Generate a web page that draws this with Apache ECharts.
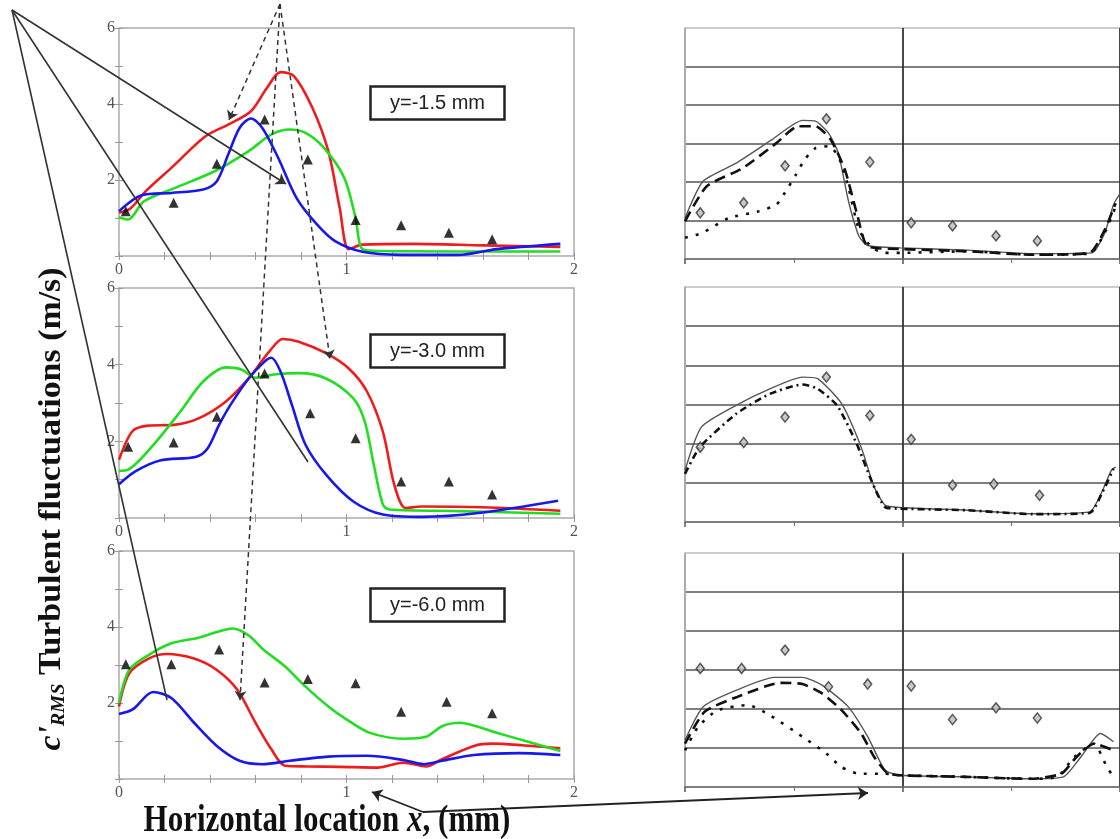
<!DOCTYPE html>
<html>
<head>
<meta charset="utf-8">
<script src="https://cdn.jsdelivr.net/npm/echarts@6/dist/echarts.min.js"></script>
<style>html,body{margin:0;padding:0;background:#fff;}#main{width:1120px;height:839px;}</style>
</head>
<body>
<div id="main"></div>
<script>
// ---------- Left column (CFD models vs experiment), x in mm, c'RMS in m/s ----------
const xTickLabels = ['0', '1', '2'];
const yTickLabels = ['2', '4', '6'];
const panelLabels = ['y=-1.5 mm', 'y=-3.0 mm', 'y=-6.0 mm'];

const p1Red = [[0,1.14],[0.05,1.25],[0.12,1.72],[0.23,2.32],[0.38,3.15],[0.48,3.46],[0.58,3.81],[0.65,4.42],[0.71,4.84],[0.77,4.73],[0.85,3.9],[0.92,2.76],[0.97,1.27],[1.01,0.18],[1.07,0.3],[1.3,0.32],[1.6,0.28],[1.94,0.24]];
const p1Green = [[0,1.02],[0.04,0.96],[0.11,1.44],[0.25,1.8],[0.42,2.23],[0.57,2.76],[0.67,3.2],[0.75,3.33],[0.82,3.24],[0.9,2.85],[0.99,2.06],[1.04,1.0],[1.07,0.18],[1.15,0.13],[1.5,0.12],[1.94,0.12]];
const p1Blue = [[0,1.18],[0.1,1.6],[0.23,1.66],[0.37,1.75],[0.43,1.97],[0.48,2.67],[0.53,3.37],[0.58,3.62],[0.63,3.37],[0.7,2.58],[0.78,1.53],[0.87,0.83],[0.95,0.39],[1.07,0.11],[1.24,0.03],[1.49,0.03],[1.66,0.18],[1.94,0.32]];
const p1Exp = [[0.03,1.18],[0.24,1.4],[0.43,2.43],[0.64,3.59],[0.83,2.54],[1.04,0.95],[1.24,0.81],[1.45,0.61],[1.64,0.44]];

const p2Red = [[0,1.52],[0.06,2.27],[0.13,2.41],[0.24,2.43],[0.35,2.6],[0.47,3.04],[0.57,3.64],[0.66,4.34],[0.72,4.67],[0.79,4.6],[0.91,4.3],[1.01,3.9],[1.09,3.3],[1.16,2.25],[1.21,0.87],[1.26,0.26],[1.33,0.3],[1.6,0.28],[1.94,0.19]];
const p2Green = [[0,1.23],[0.04,1.26],[0.15,1.9],[0.27,2.78],[0.37,3.56],[0.47,3.93],[0.54,3.87],[0.6,3.66],[0.69,3.75],[0.79,3.78],[0.91,3.64],[1.03,3.12],[1.08,2.52],[1.12,1.39],[1.16,0.35],[1.19,0.22],[1.5,0.18],[1.94,0.11]];
const p2Blue = [[0,0.88],[0.07,1.21],[0.18,1.5],[0.34,1.6],[0.39,1.82],[0.44,2.43],[0.49,2.95],[0.57,3.64],[0.64,4.08],[0.67,4.18],[0.71,3.82],[0.76,2.95],[0.82,1.91],[0.91,1.13],[1.03,0.43],[1.16,0.09],[1.33,0.03],[1.58,0.13],[1.93,0.45]];
const p2Exp = [[0.04,1.86],[0.24,1.97],[0.43,2.64],[0.64,3.77],[0.84,2.73],[1.04,2.08],[1.24,0.95],[1.45,0.95],[1.64,0.61]];

const p3Red = [[0,1.91],[0.045,2.78],[0.13,3.17],[0.21,3.29],[0.33,3.17],[0.43,2.87],[0.52,2.35],[0.6,1.48],[0.67,0.78],[0.73,0.35],[0.83,0.33],[0.97,0.32],[1.14,0.3],[1.25,0.43],[1.35,0.33],[1.42,0.52],[1.56,0.87],[1.64,0.93],[1.77,0.89],[1.94,0.81]];
const p3Green = [[0,2.0],[0.045,2.87],[0.13,3.26],[0.23,3.57],[0.35,3.72],[0.43,3.87],[0.5,3.96],[0.57,3.78],[0.63,3.43],[0.73,2.96],[0.82,2.43],[0.92,1.91],[1.0,1.57],[1.1,1.22],[1.25,1.06],[1.35,1.11],[1.42,1.39],[1.5,1.48],[1.57,1.39],[1.66,1.22],[1.81,0.96],[1.94,0.74]];
const p3Blue = [[0,1.71],[0.06,1.83],[0.15,2.29],[0.23,2.13],[0.33,1.48],[0.43,0.87],[0.53,0.48],[0.63,0.39],[0.75,0.48],[0.92,0.59],[1.09,0.61],[1.25,0.5],[1.34,0.39],[1.42,0.48],[1.56,0.63],[1.76,0.68],[1.94,0.63]];
const p3Exp = [[0.03,3.02],[0.23,3.02],[0.44,3.41],[0.64,2.54],[0.83,2.63],[1.04,2.52],[1.24,1.77],[1.44,2.03],[1.64,1.73]];

// ---------- Right column (three models, grey scale) ----------
const r1Solid = [[0,1.06],[0.083,2.02],[0.235,2.49],[0.4,3.1],[0.54,3.6],[0.6,3.58],[0.66,3.27],[0.705,2.75],[0.75,1.54],[0.8,0.59],[0.84,0.35],[0.99,0.29],[1.3,0.23],[1.6,0.14],[1.87,0.16],[1.93,0.68],[1.97,1.41],[2.0,1.7]];
const r1Dash = [[0,0.98],[0.1,1.89],[0.265,2.36],[0.42,3.01],[0.52,3.45],[0.6,3.45],[0.67,3.1],[0.735,2.32],[0.79,1.19],[0.84,0.33],[0.99,0.26],[1.3,0.2],[1.6,0.11],[1.86,0.16],[1.93,0.76],[1.98,1.45]];
const r1Dot = [[0,0.55],[0.08,0.68],[0.2,1.06],[0.34,1.24],[0.42,1.41],[0.46,1.73],[0.51,2.19],[0.55,2.58],[0.6,2.88],[0.66,2.93],[0.705,2.67],[0.75,1.89],[0.8,0.76],[0.86,0.29],[0.92,0.16],[0.99,0.16],[1.3,0.2],[1.6,0.11],[1.86,0.14],[1.93,0.68],[1.98,1.37]];
const r1Exp = [[0.07,1.2],[0.27,1.46],[0.46,2.42],[0.65,3.64],[0.85,2.52],[1.04,0.94],[1.23,0.86],[1.43,0.6],[1.62,0.47]];

const r2Solid = [[0,1.32],[0.076,2.43],[0.235,2.98],[0.39,3.4],[0.54,3.7],[0.61,3.66],[0.72,3.02],[0.81,1.91],[0.87,0.89],[0.92,0.43],[0.99,0.37],[1.3,0.3],[1.6,0.21],[1.86,0.26],[1.92,0.81],[1.96,1.32],[1.98,1.4]];
const r2Dash = [[0,1.23],[0.068,1.91],[0.235,2.76],[0.39,3.27],[0.54,3.51],[0.61,3.4],[0.7,2.97],[0.79,1.99],[0.86,1.02],[0.92,0.38],[0.99,0.34],[1.3,0.3],[1.6,0.2],[1.86,0.23],[1.92,0.77],[1.97,1.36]];
const r2Exp = [[0.07,1.91],[0.27,2.03],[0.46,2.68],[0.65,3.7],[0.85,2.72],[1.04,2.11],[1.23,0.94],[1.42,0.97],[1.63,0.68]];

const r3Solid = [[0,1.2],[0.084,2.06],[0.24,2.49],[0.41,2.81],[0.54,2.81],[0.63,2.61],[0.75,2.06],[0.84,1.29],[0.92,0.43],[0.99,0.3],[1.29,0.26],[1.59,0.21],[1.74,0.26],[1.82,0.77],[1.91,1.37],[1.97,1.16]];
const r3Dash = [[0,1.11],[0.09,1.93],[0.24,2.31],[0.44,2.67],[0.54,2.64],[0.63,2.4],[0.72,1.97],[0.81,1.37],[0.87,0.77],[0.93,0.36],[0.99,0.3],[1.29,0.26],[1.59,0.21],[1.73,0.34],[1.8,0.77],[1.88,1.11],[1.97,0.94]];
const r3Dot = [[0,0.94],[0.06,1.54],[0.15,1.97],[0.29,2.1],[0.39,1.84],[0.54,1.29],[0.65,0.86],[0.72,0.51],[0.8,0.34],[0.92,0.34],[0.99,0.3],[1.29,0.26],[1.59,0.21],[1.71,0.26],[1.79,0.77],[1.88,1.11],[1.94,0.51],[1.97,0.26]];
const r3Exp = [[0.07,3.04],[0.26,3.04],[0.46,3.51],[0.66,2.57],[0.84,2.64],[1.04,2.59],[1.23,1.73],[1.43,2.03],[1.62,1.77]];

// ---------- Annotation arrows (figure pixel space) ----------
const solidArrowLines = [[[12,10],[286,184]]];
const solidPlainLines = [[[12,10],[308,462]], [[12,10],[167,700]]];
const dashedArrowLines = [[[280,4],[229,120]], [[280,4],[330,359]], [[280,4],[240,700]]];
const bottomArrowLines = [[[423,812],[372,792]], [[423,812],[868,793]]];

const leftPanels = [
  {top: 28, height: 228, red: p1Red, green: p1Green, blue: p1Blue, exp: p1Exp, boxTop: 86},
  {top: 288, height: 230, red: p2Red, green: p2Green, blue: p2Blue, exp: p2Exp, boxTop: 334},
  {top: 551, height: 228, red: p3Red, green: p3Green, blue: p3Blue, exp: p3Exp, boxTop: 588}
];
const rightPanels = [
  {top: 28, height: 231, solid: r1Solid, dash: r1Dash, dot: r1Dot, exp: r1Exp},
  {top: 287, height: 235, solid: r2Solid, dash: r2Dash, dot: null, exp: r2Exp},
  {top: 553, height: 234, solid: r3Solid, dash: r3Dash, dot: r3Dot, exp: r3Exp}
];

const grids = [], xAxes = [], yAxes = [], series = [], titles = [];
const lblStyle = {color: '#555', fontFamily: 'Liberation Serif', fontSize: 16};
const tickGrey = {color: '#999', width: 1};
const isInt = v => Math.abs(v - Math.round(v)) < 1e-6;

leftPanels.forEach((p, i) => {
  grids.push({left: 119, top: p.top, width: 455, height: p.height, show: true, borderColor: '#aaa', borderWidth: 1.5});
  const g = grids.length - 1;
  xAxes.push({gridIndex: g, type: 'value', min: 0, max: 2, interval: 0.2, position: 'bottom',
    axisLine: {show: false}, splitLine: {show: false},
    axisTick: {inside: true, length: 4, lineStyle: tickGrey},
    axisLabel: Object.assign({}, lblStyle, {margin: 6, formatter: v => isInt(v) ? xTickLabels[Math.round(v)] : ''})});
  xAxes.push({gridIndex: g, type: 'value', min: 0, max: 2, interval: 0.2, position: 'top',
    axisLine: {show: false}, splitLine: {show: false}, axisLabel: {show: false},
    axisTick: {inside: true, length: 4, lineStyle: tickGrey}});
  yAxes.push({gridIndex: g, type: 'value', min: 0, max: 6, interval: 1, position: 'left',
    axisLine: {show: false}, splitLine: {show: false},
    axisTick: {inside: true, length: 4, lineStyle: tickGrey},
    axisLabel: Object.assign({}, lblStyle, {margin: 4, formatter: v => (v > 0 && v % 2 === 0) ? yTickLabels[v / 2 - 1] : ''})});
  yAxes.push({gridIndex: g, type: 'value', min: 0, max: 6, interval: 1, position: 'right',
    axisLine: {show: false}, splitLine: {show: false}, axisLabel: {show: false},
    axisTick: {inside: true, length: 4, lineStyle: tickGrey}});
  const xi = 2 * i, yi = 2 * i;
  [['red', '#ee1c1c'], ['green', '#22dd22'], ['blue', '#1818ee']].forEach(([k, c]) => {
    series.push({type: 'line', xAxisIndex: xi, yAxisIndex: yi, data: p[k], smooth: 0.3, showSymbol: false, symbol: 'none',
      lineStyle: {color: c, width: 2.6}, z: 3});
  });
  series.push({type: 'scatter', xAxisIndex: xi, yAxisIndex: yi, data: p.exp, symbol: 'triangle', symbolSize: 10,
    itemStyle: {color: '#000'}, z: 4});
  titles.push({text: panelLabels[i], left: 370, top: p.boxTop, borderColor: '#222', borderWidth: 2.5,
    padding: [7, 20, 7, 20], backgroundColor: '#fff',
    textStyle: {fontFamily: 'Liberation Sans', fontWeight: 'normal', fontSize: 20, color: '#222'}});
});

rightPanels.forEach((p, i) => {
  grids.push({left: 685, top: p.top, width: 440, height: p.height});
  const g = grids.length - 1;
  xAxes.push({gridIndex: g, type: 'value', min: 0, max: 2, interval: 1, position: 'bottom',
    axisLine: {show: true, lineStyle: {color: '#777', width: 1.5}},
    axisTick: {show: true, inside: false, length: 5, lineStyle: {color: '#555', width: 1.5}},
    minorTick: {show: true, splitNumber: 2, length: 4, lineStyle: {color: '#777', width: 1.2}},
    axisLabel: {show: false},
    splitLine: {show: true, lineStyle: {color: ['#aaa', '#333', '#333'], width: 1.8}}});
  yAxes.push({gridIndex: g, type: 'value', min: 0, max: 6, interval: 1, position: 'left',
    axisLine: {show: true, lineStyle: {color: '#aaa', width: 1.5}},
    axisTick: {show: false}, axisLabel: {show: false},
    splitLine: {show: true, lineStyle: {color: ['#777', '#555', '#555', '#555', '#555', '#555', '#bbb'], width: 1.6}}});
  const xi = 6 + i, yi = 6 + i;
  series.push({type: 'line', xAxisIndex: xi, yAxisIndex: yi, data: p.solid, smooth: 0.2, symbol: 'none',
    lineStyle: {color: '#555', width: 1.4}, z: 3});
  series.push({type: 'line', xAxisIndex: xi, yAxisIndex: yi, data: p.dash, smooth: 0.2, symbol: 'none',
    lineStyle: {color: '#111', width: 2.6, type: i === 1 ? [7, 4, 2, 4] : [11, 6]}, z: 3});
  if (p.dot) series.push({type: 'line', xAxisIndex: xi, yAxisIndex: yi, data: p.dot, smooth: 0.2, symbol: 'none',
    lineStyle: {color: '#111', width: 2.6, type: [3, 8]}, z: 3});
  series.push({type: 'scatter', xAxisIndex: xi, yAxisIndex: yi, data: p.exp, symbol: 'diamond', symbolSize: [8, 10],
    itemStyle: {color: '#bbb', borderColor: '#333', borderWidth: 1.5}, z: 4});
});

// overlay grid in figure pixel space for the annotation arrows
grids.push({left: 0, top: 0, width: 1120, height: 839});
xAxes.push({gridIndex: 6, type: 'value', min: 0, max: 1120, show: false});
yAxes.push({gridIndex: 6, type: 'value', min: 0, max: 839, inverse: true, show: false});
const toLines = arr => arr.map(c => ({coords: c}));
series.push({type: 'lines', coordinateSystem: 'cartesian2d', xAxisIndex: 9, yAxisIndex: 9, z: 10,
  data: toLines(solidArrowLines), symbol: ['none', 'arrow'], symbolSize: 10,
  lineStyle: {color: '#333', width: 1.6, opacity: 1}});
series.push({type: 'lines', coordinateSystem: 'cartesian2d', xAxisIndex: 9, yAxisIndex: 9, z: 10,
  data: toLines(solidPlainLines), symbol: ['none', 'none'],
  lineStyle: {color: '#333', width: 1.6, opacity: 1}});
series.push({type: 'lines', coordinateSystem: 'cartesian2d', xAxisIndex: 9, yAxisIndex: 9, z: 10,
  data: toLines(dashedArrowLines), symbol: ['none', 'arrow'], symbolSize: 9,
  lineStyle: {color: '#333', width: 1.5, type: [5, 4], opacity: 1}});
series.push({type: 'lines', coordinateSystem: 'cartesian2d', xAxisIndex: 9, yAxisIndex: 9, z: 10,
  data: toLines(bottomArrowLines), symbol: ['none', 'arrow'], symbolSize: 10,
  lineStyle: {color: '#222', width: 1.8, opacity: 1}});

const option = {
  animation: false,
  backgroundColor: '#fff',
  title: titles,
  grid: grids,
  xAxis: xAxes,
  yAxis: yAxes,
  series: series,
  graphic: [
    {type: 'text', x: 52, y: 509, rotation: Math.PI / 2, scaleX: 1.06, z: 20,
      style: {text: "{c|c'}{r|RMS}{n| Turbulent fluctuations (m/s)}", align: 'center', verticalAlign: 'middle',
        textAlign: 'center', textVerticalAlign: 'middle', fill: '#111',
        rich: {
          c: {fontFamily: 'Liberation Serif', fontWeight: 'bold', fontStyle: 'italic', fontSize: 32, fill: '#111', color: '#111'},
          r: {fontFamily: 'Liberation Serif', fontWeight: 'bold', fontStyle: 'italic', fontSize: 19, fill: '#111', color: '#111', padding: [14, 0, 0, 0]},
          n: {fontFamily: 'Liberation Serif', fontWeight: 'bold', fontSize: 32, fill: '#111', color: '#111'}
        }}},
    {type: 'text', x: 327, y: 821, z: 20, scaleY: 1.25,
      style: {text: 'Horizontal location {i|x}, (mm)', align: 'center', verticalAlign: 'middle',
        textAlign: 'center', textVerticalAlign: 'middle', fill: '#111',
        font: 'bold 31px "Liberation Serif"',
        rich: {i: {fontFamily: 'Liberation Serif', fontWeight: 'bold', fontStyle: 'italic', fontSize: 31, fill: '#111', color: '#111'}}}}
  ]
};
const chart = echarts.init(document.getElementById('main'));
chart.setOption(option);
</script>
</body>
</html>
